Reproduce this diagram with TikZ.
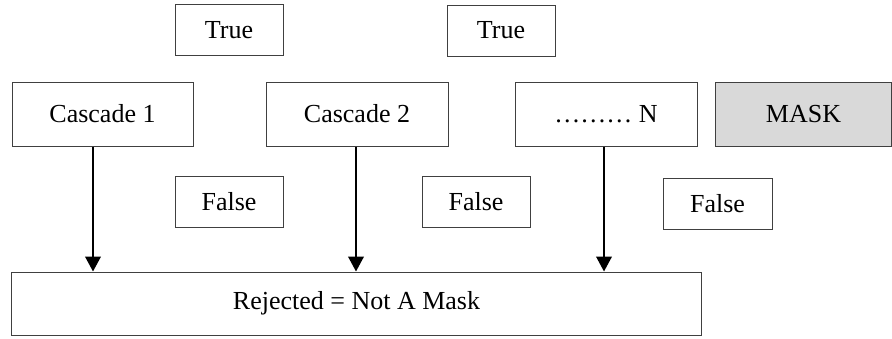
\documentclass[tikz,border=0pt]{standalone}
\usepackage{fontspec}
\setmainfont{Liberation Serif}
\usepackage{tikz}
\usetikzlibrary{arrows.meta,positioning}
\definecolor{maskgray}{RGB}{217,217,217}
\definecolor{edgegray}{RGB}{64,64,64}

\begin{document}
\begin{tikzpicture}[
  box/.style={draw=edgegray, line width=0.5pt, inner sep=0pt,
    font=\fontsize{13}{15}\selectfont, align=center},
  lbox/.style={box, minimum width=54pt, minimum height=25.5pt},
  cbox/.style={box, minimum width=91pt, minimum height=32pt},
  farr/.style={-{Triangle[length=7.5pt,width=7.8pt]}, line width=1pt, black}
]
\useasboundingbox (0,0) rectangle (446pt,-169pt);
\node[lbox] (T1) at (114.5pt,-15pt) {True};
\node[lbox] (T2) at (250.5pt,-15.25pt) {True};
\node[cbox, minimum width=90.5pt] (C1) at (51.25pt,-57pt) {Cascade 1};
\node[cbox] (C2) at (178.5pt,-57pt) {Cascade 2};
\node[cbox] (CN) at (303pt,-57pt) {……… N};
\node[cbox, minimum width=88pt, fill=maskgray] (M) at (401.75pt,-57pt) {MASK};
\node[lbox] (F1) at (114.5pt,-100.75pt) {False};
\node[lbox] (F2) at (238pt,-100.75pt) {False};
\node[lbox, minimum width=54.5pt] (F3) at (358.75pt,-101.75pt) {False};
\node[box, minimum width=345pt, minimum height=31.5pt] (R)
  at (178.25pt,-151.75pt) {Rejected = Not A Mask};
\draw[farr] ([xshift=-4.75pt]C1.south) -- ([xshift=-4.75pt]C1.south |- R.north);
\draw[farr] ([xshift=-0.5pt]C2.south) -- ([xshift=-0.5pt]C2.south |- R.north);
\draw[farr] ([xshift=-1pt]CN.south) -- ([xshift=-1pt]CN.south |- R.north);
\end{tikzpicture}
\end{document}
